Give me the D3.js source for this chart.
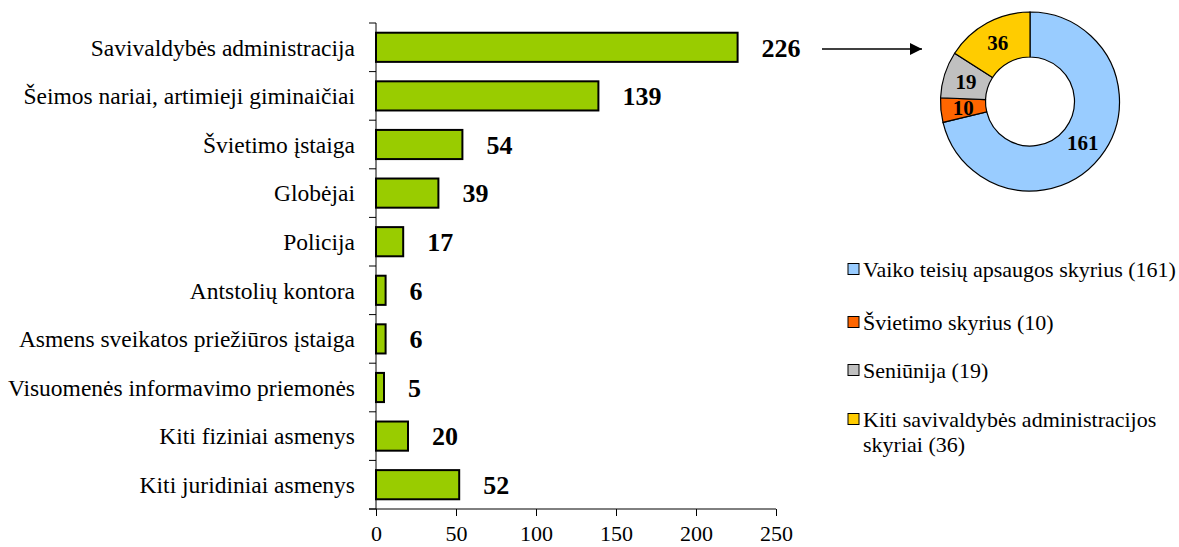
<!DOCTYPE html>
<html>
<head>
<meta charset="UTF-8">
<title>Kreipimųsi šaltiniai</title>
<script src="https://d3js.org/d3.v7.min.js"></script>
<style>
    body { margin: 0; background: #fff; }
</style>
</head>
<body>
<svg id="chart" width="1179" height="547"></svg>
<script>
    // bar chart data
    const categories = [
        "Savivaldybės administracija",
        "Šeimos nariai, artimieji giminaičiai",
        "Švietimo įstaiga",
        "Globėjai",
        "Policija",
        "Antstolių kontora",
        "Asmens sveikatos priežiūros įstaiga",
        "Visuomenės informavimo priemonės",
        "Kiti fiziniai asmenys",
        "Kiti juridiniai asmenys"
    ];
    const counts = [226, 139, 54, 39, 17, 6, 6, 5, 20, 52];
    const xTicks = [0, 50, 100, 150, 200, 250];

    // donut data (breakdown of the first bar)
    const donutNames = ["Vaiko teisių apsaugos skyrius", "Švietimo skyrius", "Seniūnija", "Kiti savivaldybės administracijos skyriai"];
    const donutValues = [161, 10, 19, 36];
    const donutColors = ["#99ccff", "#ff6600", "#c0c0c0", "#ffcc00"];

    const FONT = "Liberation Serif";

    const svg = d3.select("#chart").style("font-family", FONT);

    const x = d3.scaleLinear().domain([0, 250]).range([376, 776]);
    const y = d3.scaleBand().domain(categories).range([23, 509])
        .paddingInner(0.4).paddingOuter(0.2);

    // x axis
    svg.append("g")
        .attr("transform", "translate(0,509)")
        .call(d3.axisBottom(x).tickValues(xTicks).tickSize(7).tickPadding(9))
        .call(g => g.attr("font-family", null))
        .call(g => g.select(".domain").attr("d", "M369,0H776"))
        .call(g => g.selectAll(".tick text")
            .style("font-family", FONT).style("font-size", "22px").attr("fill", "#000"));

    // y axis: ticks on category boundaries, Excel style
    const yAxis = svg.append("g");
    yAxis.append("line")
        .attr("x1", 376).attr("x2", 376).attr("y1", 23).attr("y2", 509)
        .attr("stroke", "#000");
    const bounds = d3.range(categories.length + 1).map(i => 23 + i * y.step());
    yAxis.selectAll("line.tk").data(bounds).join("line")
        .attr("class", "tk")
        .attr("x1", 369).attr("x2", 376)
        .attr("y1", d => d).attr("y2", d => d)
        .attr("stroke", "#000");

    // category labels
    svg.selectAll("text.cat-label").data(categories).join("text")
        .attr("class", "cat-label")
        .attr("x", 355)
        .attr("y", d => y(d) + y.bandwidth() / 2)
        .attr("dy", "0.35em")
        .attr("text-anchor", "end")
        .style("font-family", FONT)
        .style("font-size", "23.5px")
        .text(d => d);

    // bars
    svg.selectAll("rect.bar").data(counts).join("rect")
        .attr("class", "bar")
        .attr("x", x(0))
        .attr("y", (d, i) => y(categories[i]))
        .attr("width", d => x(d) - x(0))
        .attr("height", y.bandwidth())
        .attr("fill", "#99cc00")
        .attr("stroke", "#000")
        .attr("stroke-width", 2);

    // value labels
    svg.selectAll("text.val-label").data(counts).join("text")
        .attr("class", "val-label")
        .attr("x", d => x(d) + 24)
        .attr("y", (d, i) => y(categories[i]) + y.bandwidth() / 2)
        .attr("dy", "0.36em")
        .style("font-family", FONT)
        .style("font-size", "26px")
        .style("font-weight", "bold")
        .text(d => d);

    // arrow to donut
    const defs = svg.append("defs");
    defs.append("marker")
        .attr("id", "arrowhead")
        .attr("viewBox", "0 0 10 10")
        .attr("refX", 10).attr("refY", 5)
        .attr("markerWidth", 16).attr("markerHeight", 12)
        .attr("markerUnits", "userSpaceOnUse")
        .attr("orient", "auto")
        .append("path").attr("d", "M0,0L10,5L0,10Z").attr("fill", "#000");
    svg.append("line")
        .attr("x1", 822).attr("x2", 922)
        .attr("y1", 49).attr("y2", 49)
        .attr("stroke", "#000").attr("stroke-width", 1.3)
        .attr("marker-end", "url(#arrowhead)");

    // donut
    const cx = 1030, cy = 101.5, rOuter = 89.5, rInner = 44.5;
    const pie = d3.pie().sort(null).value(d => d);
    const arc = d3.arc().innerRadius(rInner).outerRadius(rOuter);
    const donut = svg.append("g").attr("transform", `translate(${cx},${cy})`);
    const slices = pie(donutValues);
    donut.selectAll("path").data(slices).join("path")
        .attr("d", arc)
        .attr("fill", (d, i) => donutColors[i])
        .attr("stroke", "#000")
        .attr("stroke-width", 1.2);
    donut.selectAll("text").data(slices).join("text")
        .attr("transform", d => `translate(${arc.centroid(d)})`)
        .attr("text-anchor", "middle")
        .attr("dy", "0.35em")
        .style("font-family", FONT)
        .style("font-size", "21px")
        .style("font-weight", "bold")
        .text(d => d.data);

    // legend
    const legendRows = [
        [donutNames[0] + " (" + donutValues[0] + ")"],
        [donutNames[1] + " (" + donutValues[1] + ")"],
        [donutNames[2] + " (" + donutValues[2] + ")"],
        ["Kiti savivaldybės administracijos", "skyriai (" + donutValues[3] + ")"]
    ];
    const legendY = [269, 322, 370, 419];
    const legend = svg.append("g").attr("class", "legend");
    legendRows.forEach((lines, i) => {
        legend.append("rect")
            .attr("x", 848).attr("y", legendY[i] - 5.5)
            .attr("width", 11).attr("height", 11)
            .attr("fill", donutColors[i])
            .attr("stroke", "#000").attr("stroke-width", 1);
        const t = legend.append("text")
            .attr("x", 863).attr("y", legendY[i])
            .style("font-family", FONT)
            .style("font-size", "22px");
        lines.forEach((line, j) => {
            t.append("tspan")
                .attr("x", 863)
                .attr("dy", j === 0 ? "0.35em" : "1.15em")
                .text(line);
        });
    });
</script>
</body>
</html>
